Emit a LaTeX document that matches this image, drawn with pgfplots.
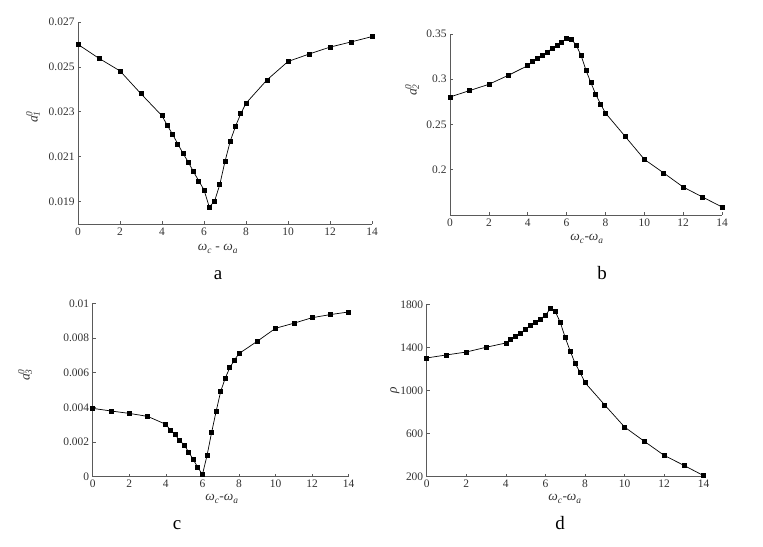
\documentclass[border=0pt]{standalone}
\usepackage{pgfplots}
\pgfplotsset{compat=1.18}
\usepackage{fontspec}
\setmainfont{Liberation Serif}
\definecolor{axgray}{RGB}{90,90,90}
\definecolor{txtgray}{RGB}{50,50,50}
\pgfplotsset{
  panel/.style={
    scale only axis,
    anchor=south west,
    axis lines=left,
    axis line style={axgray, line width=0.8pt, -},
    every tick/.style={axgray, line width=0.6pt},
    tick align=inside,
    major tick length=3bp,
    scaled ticks=false,
    xmin=0, xmax=14,
    xtick={0,2,4,6,8,10,12,14},
    xticklabels={0,2,4,6,8,10,12,14},
    tick label style={font=\fontsize{11.5}{13}\selectfont, text=txtgray},
    /pgf/number format/assume math mode=true,
    clip=false,
  },
  curve/.style={black, line width=0.7pt, mark=square*, mark size=2bp, mark options={solid, fill=black}},
}
\newcommand{\xl}[1]{\textit{ω\textsubscript{\raisebox{-0.25ex}{c}}#1ω\textsubscript{\raisebox{-0.25ex}{a}}}}
\newcommand{\yl}[1]{\textit{a}\rlap{\textsuperscript{\textit{0}}}\textsubscript{\textit{#1}}}
\begin{document}
\begin{tikzpicture}[x=1bp,y=1bp]
\useasboundingbox (0,0) rectangle (763,547);

% Panel a
\begin{axis}[panel, at={(78bp,323bp)}, width=294bp, height=202bp,
  ymin=0.018, ymax=0.027,
  ytick={0.019,0.021,0.023,0.025,0.027},
  yticklabels={0.019,0.021,0.023,0.025,0.027}]
\addplot[curve] coordinates {
(0,0.02600) (1,0.02538) (2,0.02482) (3,0.02380) (4,0.02282)
(4.25,0.0224) (4.5,0.0220) (4.75,0.02157) (5,0.02115) (5.25,0.02076)
(5.5,0.02033) (5.75,0.01992) (6,0.01952) (6.25,0.01876) (6.5,0.01901)
(6.75,0.01975) (7,0.02079) (7.25,0.02169) (7.5,0.02235) (7.75,0.02291)
(8,0.02338) (9,0.02442) (10,0.02524) (11,0.02557) (12,0.02588)
(13,0.02611) (14,0.02635)};
\end{axis}

% Panel b
\begin{axis}[panel, at={(450bp,332bp)}, width=272bp, height=181bp,
  ymin=0.15, ymax=0.35,
  ytick={0.2,0.25,0.3,0.35},
  yticklabels={0.2,0.25,0.3,0.35}]
\addplot[curve] coordinates {
(0,0.2804) (1,0.2874) (2,0.2944) (3,0.3043) (4,0.3150)
(4.25,0.3194) (4.5,0.3227) (4.75,0.3264) (5,0.3301) (5.25,0.3338)
(5.5,0.3375) (5.75,0.3412) (6,0.3448) (6.25,0.3441) (6.5,0.3375)
(6.75,0.3260) (7,0.3098) (7.25,0.2962) (7.5,0.2833) (7.75,0.2726)
(8,0.2627) (9,0.2372) (10,0.2115) (11,0.1964) (12,0.1809)
(13,0.1698) (14,0.1588)};
\end{axis}

% Panel c
\begin{axis}[panel, at={(92.7bp,70.3bp)}, width=256bp, height=173.4bp,
  ymin=0, ymax=0.01,
  ytick={0,0.002,0.004,0.006,0.008,0.01},
  yticklabels={0,0.002,0.004,0.006,0.008,0.01}]
\addplot[curve] coordinates {
(0,0.00394) (1,0.00379) (2,0.00365) (3,0.00348) (4,0.00302)
(4.25,0.00269) (4.5,0.00242) (4.75,0.00210) (5,0.00183) (5.25,0.00142)
(5.5,0.00098) (5.75,0.00054) (6,0.00012) (6.25,0.00121) (6.5,0.00254)
(6.75,0.00377) (7,0.00492) (7.25,0.00569) (7.5,0.00629) (7.75,0.00673)
(8,0.00710) (9,0.00781) (10,0.00856) (11,0.00885) (12,0.00917)
(13,0.00935) (14,0.00950)};
\end{axis}

% Panel d
\begin{axis}[panel, at={(426.7bp,70.3bp)}, width=277bp, height=172.4bp,
  ymin=200, ymax=1800,
  ytick={200,600,1000,1400,1800},
  yticklabels={200,600,1000,1400,1800}]
\addplot[curve] coordinates {
(0,1302) (1,1330) (2,1357) (3,1401) (4,1441)
(4.25,1475) (4.5,1503) (4.75,1534) (5,1568) (5.25,1602)
(5.5,1633) (5.75,1664) (6,1698) (6.25,1760) (6.5,1732)
(6.75,1633) (7,1491) (7.25,1367) (7.5,1252) (7.75,1169)
(8,1073) (9,865) (10,661) (11,528) (12,398)
(13,305) (14,209)};
\end{axis}

% axis labels
\begin{scope}[every node/.style={font=\fontsize{13.5}{15}\selectfont, text=txtgray}]
\node at (218,298) {\xl{ - }};
\node at (587,308) {\xl{-}};
\node at (222,48) {\xl{-}};
\node at (565,48) {\xl{-}};
\node[rotate=90] at (33,430) {\yl{1}};
\node[rotate=90] at (412,457) {\yl{2}};
\node[rotate=90] at (25,172) {\yl{3}};
\node[rotate=90] at (395,157) {\textit{ρ}};
\end{scope}

% panel letters
\begin{scope}[every node/.style={font=\fontsize{19}{22}\selectfont, text=black}]
\node at (218,272) {a};
\node at (602,274) {b};
\node at (177,22) {c};
\node at (560,24) {d};
\end{scope}
\end{tikzpicture}
\end{document}
